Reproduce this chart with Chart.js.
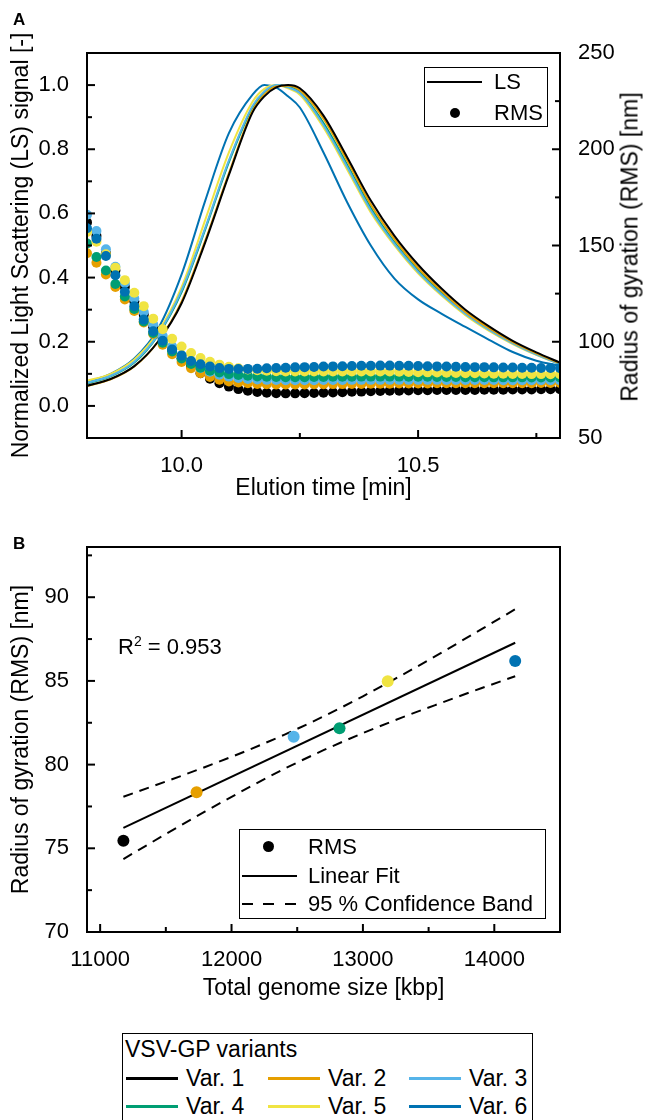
<!DOCTYPE html>
<html>
<head>
<meta charset="utf-8">
<script src="https://cdn.jsdelivr.net/npm/chart.js@4.4.1/dist/chart.umd.min.js"></script>
<style>
body { margin: 0; background: #fff; }
#page {
    position: relative;
    width: 645px;
    height: 1120px;
    overflow: hidden;
    font-family: "Liberation Sans", Arial, sans-serif;
    color: #000;
}
canvas { position: absolute; left: 0; }
#elutionChart { top: 0; }
#genomeChart { top: 520px; }
.abs { position: absolute; white-space: nowrap; line-height: 1; }
.panel-label { font-weight: bold; font-size: 17px; }
.legend-box { position: absolute; border: 1.5px solid #000; box-sizing: border-box; }
.legend-text { position: absolute; white-space: nowrap; font-size: 22px; line-height: 22px; }
.legend-line { position: absolute; height: 2px; background: #000; }
.legend-dot { position: absolute; border-radius: 50%; background: #000; }
#rightTitle {
    font-size: 23px;
    transform: translate(-50%, -50%) rotate(-90deg);
}
#variantLegend .legend-text { font-size: 23px; line-height: 23px; }
#variantLegend .legend-line { height: 3px; }
</style>
</head>
<body>
<div id="page">
    <canvas id="elutionChart" width="645" height="520"></canvas>
    <canvas id="genomeChart" width="645" height="500"></canvas>

    <div class="abs panel-label" style="left:13px; top:11px;">A</div>
    <div class="abs panel-label" style="left:13px; top:535px;">B</div>

    <div class="abs" id="rightTitle" style="left:630px; top:247px;">Radius of gyration (RMS) [nm]</div>

    <div class="legend-box" style="left:424px; top:67px; width:124px; height:60px;">
        <div class="legend-line" style="left:2px; top:13px; width:55px;"></div>
        <div class="legend-text" style="left:69px; top:3px;">LS</div>
        <div class="legend-dot" style="left:25px; top:40px; width:10px; height:10px;"></div>
        <div class="legend-text" style="left:69px; top:34px;">RMS</div>
    </div>

    <div class="abs" style="left:118px; top:634px; font-size:22px;">R<sup style="font-size:14px; vertical-align:8px;">2</sup> = 0.953</div>

    <div class="legend-box" style="left:239px; top:829px; width:307px; height:90px;">
        <div class="legend-dot" style="left:23px; top:11px; width:11px; height:11px;"></div>
        <div class="legend-text" style="left:68px; top:6px;">RMS</div>
        <div class="legend-line" style="left:2px; top:45px; width:55px;"></div>
        <div class="legend-text" style="left:68px; top:35px;">Linear Fit</div>
        <div class="legend-line" style="left:2px; top:73px; width:11px;"></div>
        <div class="legend-line" style="left:23px; top:73px; width:11px;"></div>
        <div class="legend-line" style="left:45px; top:73px; width:11px;"></div>
        <div class="legend-text" style="left:68px; top:63px;">95 % Confidence Band</div>
    </div>

    <div class="legend-box" id="variantLegend" style="left:122px; top:1033px; width:411px; height:120px;">
        <div class="legend-text" style="left:2px; top:4px;">VSV-GP variants</div>
    </div>
</div>

<script>
/* Data */

const variantNames = ["Var. 1", "Var. 2", "Var. 3", "Var. 4", "Var. 5", "Var. 6"];
const variantColors = ["#000000", "#E69F00", "#56B4E9", "#009E73", "#F0E442", "#0072B2"];

// panel A - light scattering traces (left axis)
const lsTimes = [9.80, 9.85, 9.90, 9.95, 10.00, 10.05, 10.10, 10.15, 10.175, 10.20, 10.225, 10.25,
    10.30, 10.35, 10.40, 10.45, 10.50, 10.55, 10.60, 10.65, 10.70, 10.75, 10.80];

const lsVar1 = [0.063, 0.084, 0.124, 0.20, 0.32, 0.51, 0.72, 0.915, 0.965, 0.993, 1.0, 0.99,
    0.905, 0.775, 0.64, 0.53, 0.44, 0.365, 0.30, 0.248, 0.203, 0.167, 0.135];
const lsVar2 = [0.062, 0.083, 0.123, 0.20, 0.325, 0.515, 0.725, 0.92, 0.97, 0.996, 0.998, 0.984,
    0.895, 0.765, 0.628, 0.52, 0.43, 0.357, 0.293, 0.242, 0.199, 0.164, 0.133];
const lsVar3 = [0.072, 0.094, 0.138, 0.222, 0.36, 0.555, 0.765, 0.935, 0.98, 1.0, 0.993, 0.975,
    0.875, 0.745, 0.61, 0.505, 0.418, 0.347, 0.287, 0.237, 0.195, 0.16, 0.13];
const lsVar4 = [0.07, 0.092, 0.135, 0.22, 0.355, 0.55, 0.76, 0.93, 0.978, 0.999, 0.995, 0.978,
    0.882, 0.752, 0.617, 0.51, 0.423, 0.352, 0.29, 0.24, 0.197, 0.162, 0.131];
const lsVar5 = [0.078, 0.10, 0.145, 0.23, 0.37, 0.58, 0.79, 0.948, 0.988, 1.0, 0.99, 0.97,
    0.868, 0.737, 0.603, 0.5, 0.413, 0.343, 0.283, 0.234, 0.193, 0.159, 0.13];
const lsVar6 = [0.075, 0.10, 0.148, 0.24, 0.41, 0.64, 0.85, 0.97, 1.0, 0.992, 0.965, 0.93,
    0.79, 0.635, 0.5, 0.397, 0.332, 0.287, 0.246, 0.206, 0.168, 0.141, 0.125];

// panel A - radius of gyration points (right axis)
const rmsTimes = [9.80, 9.82, 9.84, 9.86, 9.88, 9.90, 9.92, 9.94, 9.96, 9.98,
    10.00, 10.02, 10.04, 10.06, 10.08, 10.10, 10.12, 10.14, 10.16, 10.18,
    10.20, 10.22, 10.24, 10.26, 10.28, 10.30, 10.32, 10.34, 10.36, 10.38,
    10.40, 10.42, 10.44, 10.46, 10.48, 10.50, 10.52, 10.54, 10.56, 10.58,
    10.60, 10.62, 10.64, 10.66, 10.68, 10.70, 10.72, 10.74, 10.76, 10.78, 10.80];

const rmsVar1 = [162, 155, 146, 137, 128.5, 121, 114, 107.5, 101.5, 96,
    91.3, 87.2, 83.7, 80.8, 78.5, 76.7, 75.4, 74.5, 73.9, 73.5,
    73.3, 73.2, 73.2, 73.3, 73.4, 73.5, 73.7, 73.8, 74, 74.1,
    74.3, 74.4, 74.5, 74.6, 74.7, 74.8, 74.8, 74.9, 74.9, 75,
    75, 75, 75.1, 75.1, 75.1, 75.2, 75.2, 75.2, 75.3, 75.3, 75.3];
const rmsVar2 = [146, 141, 135, 128.5, 122, 116, 110, 104, 98.5, 93.5,
    89.5, 86.2, 83.6, 81.7, 80.3, 79.4, 78.8, 78.4, 78.1, 77.9,
    77.8, 77.8, 77.8, 77.8, 77.9, 77.9, 78, 78, 78.1, 78.1,
    78.2, 78.2, 78.2, 78.3, 78.3, 78.3, 78.3, 78.4, 78.4, 78.4,
    78.4, 78.4, 78.5, 78.5, 78.5, 78.5, 78.5, 78.5, 78.6, 78.6, 78.6];
const rmsVar3 = [166, 157.5, 148, 139, 130.5, 122.5, 115.5, 109, 103, 97.5,
    93, 89.3, 86.4, 84.4, 82.9, 81.9, 81.2, 80.7, 80.4, 80.2,
    80.1, 80, 80, 80, 80, 80.1, 80.1, 80.1, 80.2, 80.2,
    80.2, 80.2, 80.2, 80.2, 80.2, 80.2, 80.2, 80.2, 80.1, 80.1,
    80.1, 80.1, 80.1, 80.1, 80, 80, 80, 80, 80, 80, 80];
const rmsVar4 = [151, 144, 137, 130, 123.5, 117, 110.5, 104.5, 99.5, 95,
    91.3, 88.5, 86.5, 85, 84, 83.2, 82.7, 82.3, 82, 81.8,
    81.7, 81.6, 81.6, 81.6, 81.7, 81.7, 81.8, 81.8, 81.8, 81.9,
    81.9, 81.9, 81.9, 81.9, 81.8, 81.8, 81.8, 81.7, 81.7, 81.7,
    81.6, 81.6, 81.6, 81.5, 81.5, 81.5, 81.5, 81.4, 81.4, 81.4, 81.4];
const rmsVar5 = [157, 152, 145.5, 138.5, 132, 125.5, 118.5, 112, 106.5, 101.5,
    97.5, 94.2, 91.6, 89.6, 88.1, 87, 86.2, 85.6, 85.2, 84.9,
    84.7, 84.6, 84.5, 84.5, 84.5, 84.5, 84.6, 84.6, 84.6, 84.6,
    84.6, 84.5, 84.5, 84.4, 84.3, 84.2, 84.1, 84, 83.9, 83.8,
    83.7, 83.6, 83.5, 83.4, 83.4, 83.3, 83.3, 83.2, 83.2, 83.1, 83.1];
const rmsVar6 = [159, 153.5, 144.5, 134.5, 126, 118.5, 111.5, 105.5, 100.5, 96,
    92.8, 90, 88.3, 87.1, 86.3, 85.9, 85.8, 85.9, 86, 86.2,
    86.4, 86.5, 86.7, 86.8, 86.9, 87.1, 87.2, 87.3, 87.4, 87.5,
    87.5, 87.6, 87.6, 87.5, 87.5, 87.4, 87.3, 87.2, 87.1, 87,
    86.9, 86.8, 86.8, 86.7, 86.6, 86.6, 86.5, 86.5, 86.4, 86.4, 86.3];

const lsValues = [lsVar1, lsVar2, lsVar3, lsVar4, lsVar5, lsVar6];
const rmsValues = [rmsVar1, rmsVar2, rmsVar3, rmsVar4, rmsVar5, rmsVar6];

// panel B - Rg vs genome size
const genomeSize = [11177, 11734, 12473, 12822, 13189, 14159];
const gyrationRadius = [75.45, 78.35, 81.67, 82.17, 84.98, 86.19];

const fitX = [11177, 14159];
const fitY = [76.22, 87.28];

const bandX = [11177, 11500, 11800, 12100, 12400, 12700, 13000, 13300, 13600, 13900, 14159];
const bandUpper = [78.08, 78.99, 79.86, 80.78, 81.78, 82.88, 84.08, 85.36, 86.70, 88.08, 89.28];
const bandLower = [74.36, 75.85, 77.20, 78.50, 79.74, 80.86, 81.88, 82.82, 83.70, 84.56, 85.28];

// tick labels
const timeTickLabels = [10.0, 10.5];
const timeMinorTicks = [10.25, 10.75];
const lsTickLabels = [0.0, 0.2, 0.4, 0.6, 0.8, 1.0];
const lsMinorTicks = [0.1, 0.3, 0.5, 0.7, 0.9];
const rmsTickLabels = [50, 100, 150, 200, 250];
const rmsMinorTicks = [75, 125, 175, 225];
const genomeTickLabels = [11000, 12000, 13000, 14000];
const genomeMinorTicks = [11500, 12500, 13500];
const gyrationTickLabels = [70, 75, 80, 85, 90];
const gyrationMinorTicks = [72.5, 77.5, 82.5, 87.5, 92.5];

/* Defaults */

Chart.defaults.font.family = '"Liberation Sans", Arial, sans-serif';
Chart.defaults.font.size = 22;
Chart.defaults.color = "#000";

const elutionCanvas = document.querySelector("#elutionChart");
const genomeCanvas = document.querySelector("#genomeChart");
const variantLegendEl = document.querySelector("#variantLegend");

// inward ticks + frame, Origin style
function makeTickMarks(id, axes) {
    return {
        id: id,
        afterDatasetsDraw(chart) {
            const ctx = chart.ctx;
            const area = chart.chartArea;
            ctx.save();
            ctx.strokeStyle = "#000";
            ctx.lineWidth = 2;

            axes.forEach(axis => {
                const scale = chart.scales[axis.scaleId];
                const drawTick = (value, len) => {
                    const p = scale.getPixelForValue(value);
                    ctx.beginPath();
                    if (axis.side === "left") {
                        ctx.moveTo(area.left, p);
                        ctx.lineTo(area.left + len, p);
                    } else if (axis.side === "right") {
                        ctx.moveTo(area.right, p);
                        ctx.lineTo(area.right - len, p);
                    } else {
                        ctx.moveTo(p, area.bottom);
                        ctx.lineTo(p, area.bottom - len);
                    }
                    ctx.stroke();
                };
                axis.major.forEach(v => drawTick(v, 8));
                axis.minor.forEach(v => drawTick(v, 5));
            });

            ctx.strokeRect(area.left, area.top, area.right - area.left, area.bottom - area.top);
            ctx.restore();
        }
    };
}

function fixedTicks(values) {
    return scale => {
        scale.ticks = values.map(v => ({ value: v }));
    };
}

/* Panel A - Elution Chart */

const lsDatasets = variantNames.map((name, i) => ({
    label: name + " LS",
    data: lsTimes.map((t, k) => ({ x: t, y: lsValues[i][k] })),
    yAxisID: "yLS",
    showLine: true,
    borderColor: variantColors[i],
    borderWidth: 2,
    pointRadius: 0,
    cubicInterpolationMode: "monotone",
    clip: 0,
    order: 7 + i
}));

const rmsDatasets = variantNames.map((name, i) => ({
    label: name + " RMS",
    data: rmsTimes.map((t, k) => ({ x: t, y: rmsValues[i][k] })),
    yAxisID: "yRMS",
    showLine: false,
    pointRadius: 5,
    pointBackgroundColor: variantColors[i],
    pointBorderColor: variantColors[i],
    pointBorderWidth: 0,
    clip: 0,
    order: 6 - i
}));

new Chart(elutionCanvas, {
    type: "scatter",
    data: {
        datasets: [...lsDatasets, ...rmsDatasets]
    },
    options: {
        responsive: false,
        animation: false,
        events: [],
        layout: {
            padding: { top: 53, left: 0, right: 0, bottom: 0 }
        },
        plugins: {
            legend: { display: false },
            tooltip: { enabled: false }
        },
        scales: {
            x: {
                type: "linear",
                position: "bottom",
                min: 9.8,
                max: 10.8,
                afterBuildTicks: fixedTicks(timeTickLabels),
                ticks: {
                    callback: v => v.toFixed(1),
                    padding: 7,
                    autoSkip: false,
                    maxRotation: 0
                },
                grid: { display: false },
                border: { display: false },
                title: {
                    display: true,
                    text: "Elution time [min]",
                    font: { size: 23 },
                    padding: { top: 0, bottom: 18 }
                },
                afterFit: scale => { scale.height = 82; }
            },
            yLS: {
                type: "linear",
                position: "left",
                min: -0.1,
                max: 1.1,
                afterBuildTicks: fixedTicks(lsTickLabels),
                ticks: {
                    callback: v => v.toFixed(1),
                    padding: 10,
                    autoSkip: false
                },
                grid: { display: false },
                border: { display: false },
                title: {
                    display: true,
                    text: "Normalized Light Scattering (LS) signal [-]",
                    font: { size: 23 },
                    padding: { top: 8, bottom: 0 }
                },
                afterFit: scale => { scale.width = 87; }
            },
            yRMS: {
                type: "linear",
                position: "right",
                min: 50,
                max: 250,
                afterBuildTicks: fixedTicks(rmsTickLabels),
                ticks: {
                    callback: v => String(v),
                    padding: 10,
                    autoSkip: false
                },
                grid: { display: false },
                border: { display: false },
                afterFit: scale => { scale.width = 85; }
            }
        }
    },
    plugins: [makeTickMarks("tickMarksA", [
        { scaleId: "x", side: "bottom", major: timeTickLabels, minor: timeMinorTicks },
        { scaleId: "yLS", side: "left", major: lsTickLabels, minor: lsMinorTicks },
        { scaleId: "yRMS", side: "right", major: rmsTickLabels, minor: rmsMinorTicks }
    ])]
});

/* Panel B - Genome Size Chart */

new Chart(genomeCanvas, {
    type: "scatter",
    data: {
        datasets: [
            {
                label: "RMS",
                data: genomeSize.map((g, i) => ({ x: g, y: gyrationRadius[i] })),
                pointRadius: 6,
                pointBackgroundColor: variantColors,
                pointBorderColor: variantColors,
                pointBorderWidth: 0,
                order: 0
            },
            {
                label: "Linear Fit",
                data: fitX.map((x, i) => ({ x: x, y: fitY[i] })),
                showLine: true,
                borderColor: "#000",
                borderWidth: 2,
                pointRadius: 0,
                order: 1
            },
            {
                label: "95 % Confidence Band",
                data: bandX.map((x, i) => ({ x: x, y: bandUpper[i] })),
                showLine: true,
                borderColor: "#000",
                borderWidth: 2,
                borderDash: [10, 7],
                pointRadius: 0,
                cubicInterpolationMode: "monotone",
                order: 2
            },
            {
                label: "95 % Confidence Band lower",
                data: bandX.map((x, i) => ({ x: x, y: bandLower[i] })),
                showLine: true,
                borderColor: "#000",
                borderWidth: 2,
                borderDash: [10, 7],
                pointRadius: 0,
                cubicInterpolationMode: "monotone",
                order: 2
            }
        ]
    },
    options: {
        responsive: false,
        animation: false,
        events: [],
        layout: {
            padding: { top: 27, left: 0, right: 85, bottom: 0 }
        },
        plugins: {
            legend: { display: false },
            tooltip: { enabled: false }
        },
        scales: {
            x: {
                type: "linear",
                position: "bottom",
                min: 10900,
                max: 14500,
                afterBuildTicks: fixedTicks(genomeTickLabels),
                ticks: {
                    callback: v => String(v),
                    padding: 7,
                    autoSkip: false,
                    maxRotation: 0
                },
                grid: { display: false },
                border: { display: false },
                title: {
                    display: true,
                    text: "Total genome size [kbp]",
                    font: { size: 23 },
                    padding: { top: 0, bottom: 18 }
                },
                afterFit: scale => { scale.height = 88; }
            },
            y: {
                type: "linear",
                position: "left",
                min: 70,
                max: 93,
                afterBuildTicks: fixedTicks(gyrationTickLabels),
                ticks: {
                    callback: v => String(v),
                    padding: 10,
                    autoSkip: false
                },
                grid: { display: false },
                border: { display: false },
                title: {
                    display: true,
                    text: "Radius of gyration (RMS) [nm]",
                    font: { size: 23 },
                    padding: { top: 8, bottom: 0 }
                },
                afterFit: scale => { scale.width = 87; }
            }
        }
    },
    plugins: [makeTickMarks("tickMarksB", [
        { scaleId: "x", side: "bottom", major: genomeTickLabels, minor: genomeMinorTicks },
        { scaleId: "y", side: "left", major: gyrationTickLabels, minor: gyrationMinorTicks }
    ])]
});

/* Variant Legend */

const legendColumns = [3, 145, 286];
const legendRows = [33, 61];

variantNames.forEach((name, i) => {
    const col = legendColumns[i % 3];
    const row = legendRows[Math.floor(i / 3)];

    const line = document.createElement("div");
    line.classList.add("legend-line");
    line.style.left = col + "px";
    line.style.top = (row + 10) + "px";
    line.style.width = "52px";
    line.style.background = variantColors[i];

    const text = document.createElement("div");
    text.classList.add("legend-text");
    text.style.left = (col + 60) + "px";
    text.style.top = row + "px";
    text.textContent = name;

    variantLegendEl.appendChild(line);
    variantLegendEl.appendChild(text);
});
</script>
</body>
</html>
